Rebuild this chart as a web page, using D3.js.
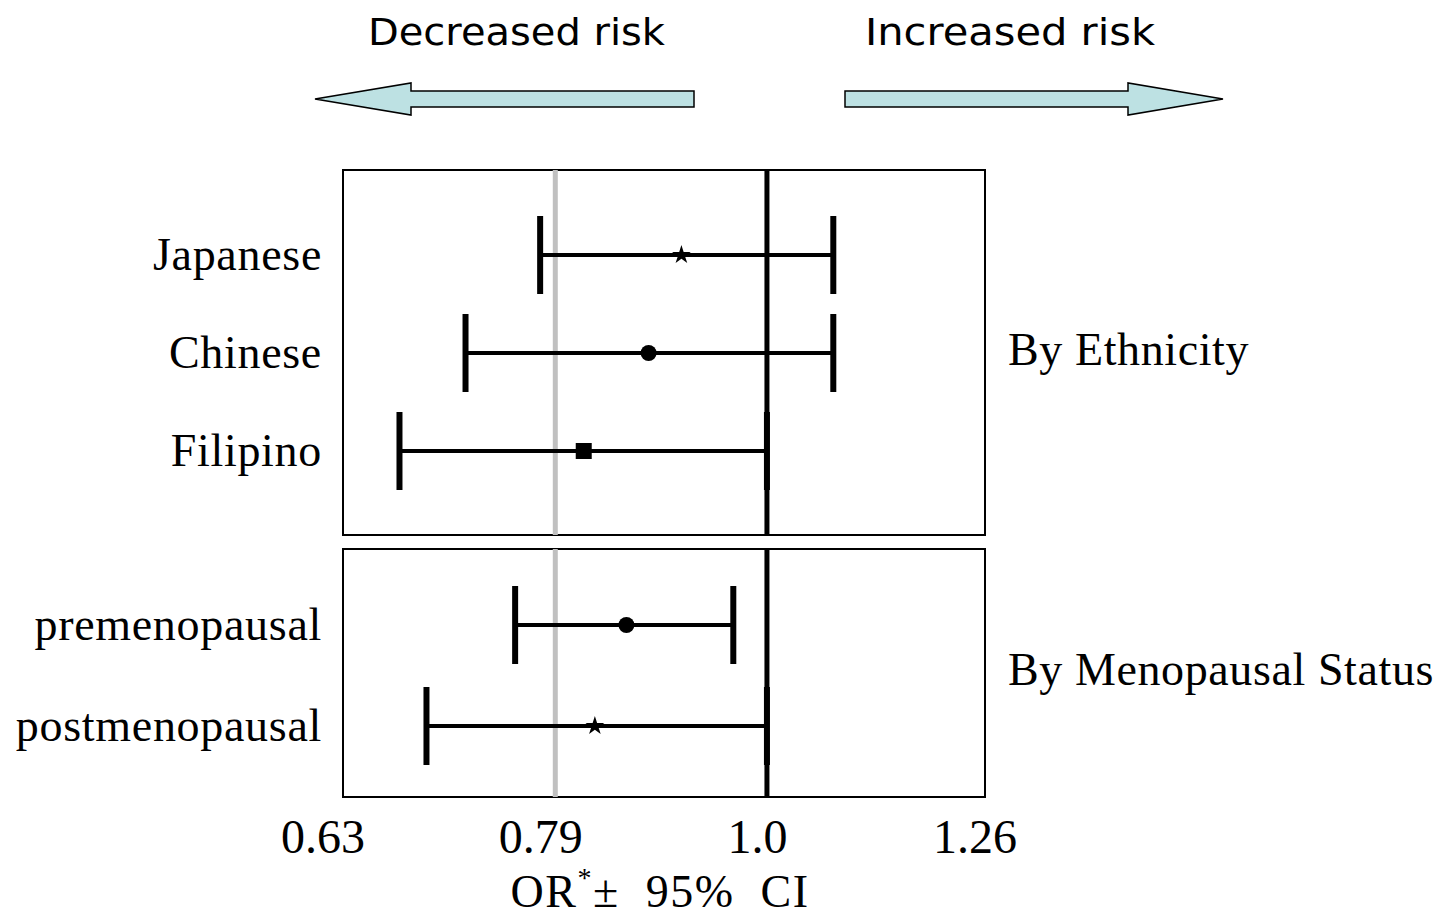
<!DOCTYPE html>
<html>
<head>
<meta charset="utf-8">
<script src="https://cdn.jsdelivr.net/npm/d3@7"></script>
<style>
  body { margin: 0; background: #fff; }
  svg { display: block; }
</style>
</head>
<body>
<svg id="vis" width="1446" height="916"></svg>
<script>
// odds ratios
let ethnic_groups = ["Japanese", "Chinese", "Filipino"];
let ethnic_or = [0.911, 0.879, 0.819];
let ethnic_low = [0.781, 0.720, 0.670];
let ethnic_high = [1.075, 1.075, 1.0];
let ethnic_marks = ["star", "circle", "square"];

let meno_groups = ["premenopausal", "postmenopausal"];
let meno_or = [0.858, 0.829];
let meno_low = [0.760, 0.690];
let meno_high = [0.964, 1.0];
let meno_marks = ["circle", "star"];

let tick_values = [0.63, 0.794, 1.0, 1.26];
let tick_labels = ["0.63", "0.79", "1.0", "1.26"];
let ref_value = 1.0;
let grey_value = 0.794;

let serif = "'Liberation Serif', 'Times New Roman', serif";
let comic = "'Comic Sans MS', 'DejaVu Sans', sans-serif";

let svg = d3.select("#vis");

let x = d3.scaleLog()
    .domain([0.63, 1.26])
    .range([343, 979]);

// tick labels sit a little left of their ticks in the original
let x_label = x.copy().range([323, 975]);

let frame_left = 343;
let frame_right = 985;

let panels = [
    {
        groups: ethnic_groups, or: ethnic_or, low: ethnic_low, high: ethnic_high,
        marks: ethnic_marks, top: 170, bottom: 535, rows: [255, 451],
        title: "By Ethnicity", title_y: 350
    },
    {
        groups: meno_groups, or: meno_or, low: meno_low, high: meno_high,
        marks: meno_marks, top: 549, bottom: 797, rows: [625, 726],
        title: "By Menopausal Status", title_y: 670
    }
];

// arrows and risk labels on top
let arrow_fill = "#bde1e3";
let left_arrow = [[315, 99], [411, 83], [411, 91], [694, 91], [694, 107], [411, 107], [411, 115]];
let right_arrow = [[1223, 99], [1128, 83], [1128, 91], [845, 91], [845, 107], [1128, 107], [1128, 115]];
[left_arrow, right_arrow].forEach(pts => {
    svg.append("polygon")
        .attr("points", pts.map(p => p.join(",")).join(" "))
        .attr("fill", arrow_fill)
        .attr("stroke", "#000")
        .attr("stroke-width", 1.5)
        .attr("stroke-linejoin", "miter");
});

svg.append("text")
    .attr("x", 368).attr("y", 45)
    .attr("font-family", comic).attr("font-size", 38)
    .attr("textLength", 297).attr("lengthAdjust", "spacingAndGlyphs")
    .text("Decreased risk");
svg.append("text")
    .attr("x", 865).attr("y", 45)
    .attr("font-family", comic).attr("font-size", 38)
    .attr("textLength", 290).attr("lengthAdjust", "spacingAndGlyphs")
    .text("Increased risk");

panels.forEach(p => {
    let y = d3.scalePoint()
        .domain(p.groups)
        .range(p.rows);

    let g = svg.append("g");

    // frame
    g.append("rect")
        .attr("x", frame_left).attr("y", p.top)
        .attr("width", frame_right - frame_left)
        .attr("height", p.bottom - p.top)
        .attr("fill", "none")
        .attr("stroke", "#000")
        .attr("stroke-width", 2);

    // grey and black reference lines
    g.append("line")
        .attr("x1", x(grey_value)).attr("x2", x(grey_value))
        .attr("y1", p.top).attr("y2", p.bottom)
        .attr("stroke", "#c0c0c0").attr("stroke-width", 5);
    g.append("line")
        .attr("x1", x(ref_value)).attr("x2", x(ref_value))
        .attr("y1", p.top).attr("y2", p.bottom)
        .attr("stroke", "#000").attr("stroke-width", 5);

    let rows = p.groups.map((name, i) => ({
        name: name, or: p.or[i], low: p.low[i], high: p.high[i], mark: p.marks[i]
    }));

    let bar = g.selectAll(".bar")
        .data(rows)
        .enter().append("g")
        .attr("class", "bar");

    bar.append("line")
        .attr("x1", d => x(d.low)).attr("x2", d => x(d.high))
        .attr("y1", d => y(d.name)).attr("y2", d => y(d.name))
        .attr("stroke", "#000").attr("stroke-width", 4);

    ["low", "high"].forEach(k => {
        bar.append("line")
            .attr("x1", d => x(d[k])).attr("x2", d => x(d[k]))
            .attr("y1", d => y(d.name) - 39).attr("y2", d => y(d.name) + 39)
            .attr("stroke", "#000").attr("stroke-width", 6);
    });

    bar.append("path")
        .attr("transform", d => `translate(${x(d.or)}, ${y(d.name)})`)
        .attr("d", d => {
            if (d.mark == "circle") return d3.symbol(d3.symbolCircle, 200)();
            if (d.mark == "square") return d3.symbol(d3.symbolSquare, 256)();
            return d3.symbol(d3.symbolStar, 110)();
        })
        .attr("fill", "#000");

    // category labels
    bar.append("text")
        .attr("x", 322)
        .attr("y", d => y(d.name))
        .attr("dy", "0.32em")
        .attr("text-anchor", "end")
        .attr("font-family", serif)
        .attr("font-size", 46)
        .attr("letter-spacing", 0.7)
        .text(d => d.name);

    g.append("text")
        .attr("x", 1008)
        .attr("y", p.title_y)
        .attr("dy", "0.32em")
        .attr("font-family", serif)
        .attr("font-size", 46)
        .attr("letter-spacing", 0.6)
        .text(p.title);
});

// tick labels
svg.selectAll(".tick-label")
    .data(tick_values)
    .enter().append("text")
    .attr("class", "tick-label")
    .attr("x", d => x_label(d))
    .attr("y", 853)
    .attr("text-anchor", "middle")
    .attr("font-family", serif)
    .attr("font-size", 48)
    .text((d, i) => tick_labels[i]);

// axis title
let title = svg.append("text")
    .attr("x", 660)
    .attr("y", 907)
    .attr("text-anchor", "middle")
    .attr("font-family", serif)
    .attr("font-size", 46)
    .attr("letter-spacing", 1.5)
    .style("white-space", "pre");
title.append("tspan").text("OR");
title.append("tspan").attr("dy", -20).attr("font-size", 28).text("*");
title.append("tspan").attr("dy", 20).text("\u00b1  95%  CI");
</script>
</body>
</html>
